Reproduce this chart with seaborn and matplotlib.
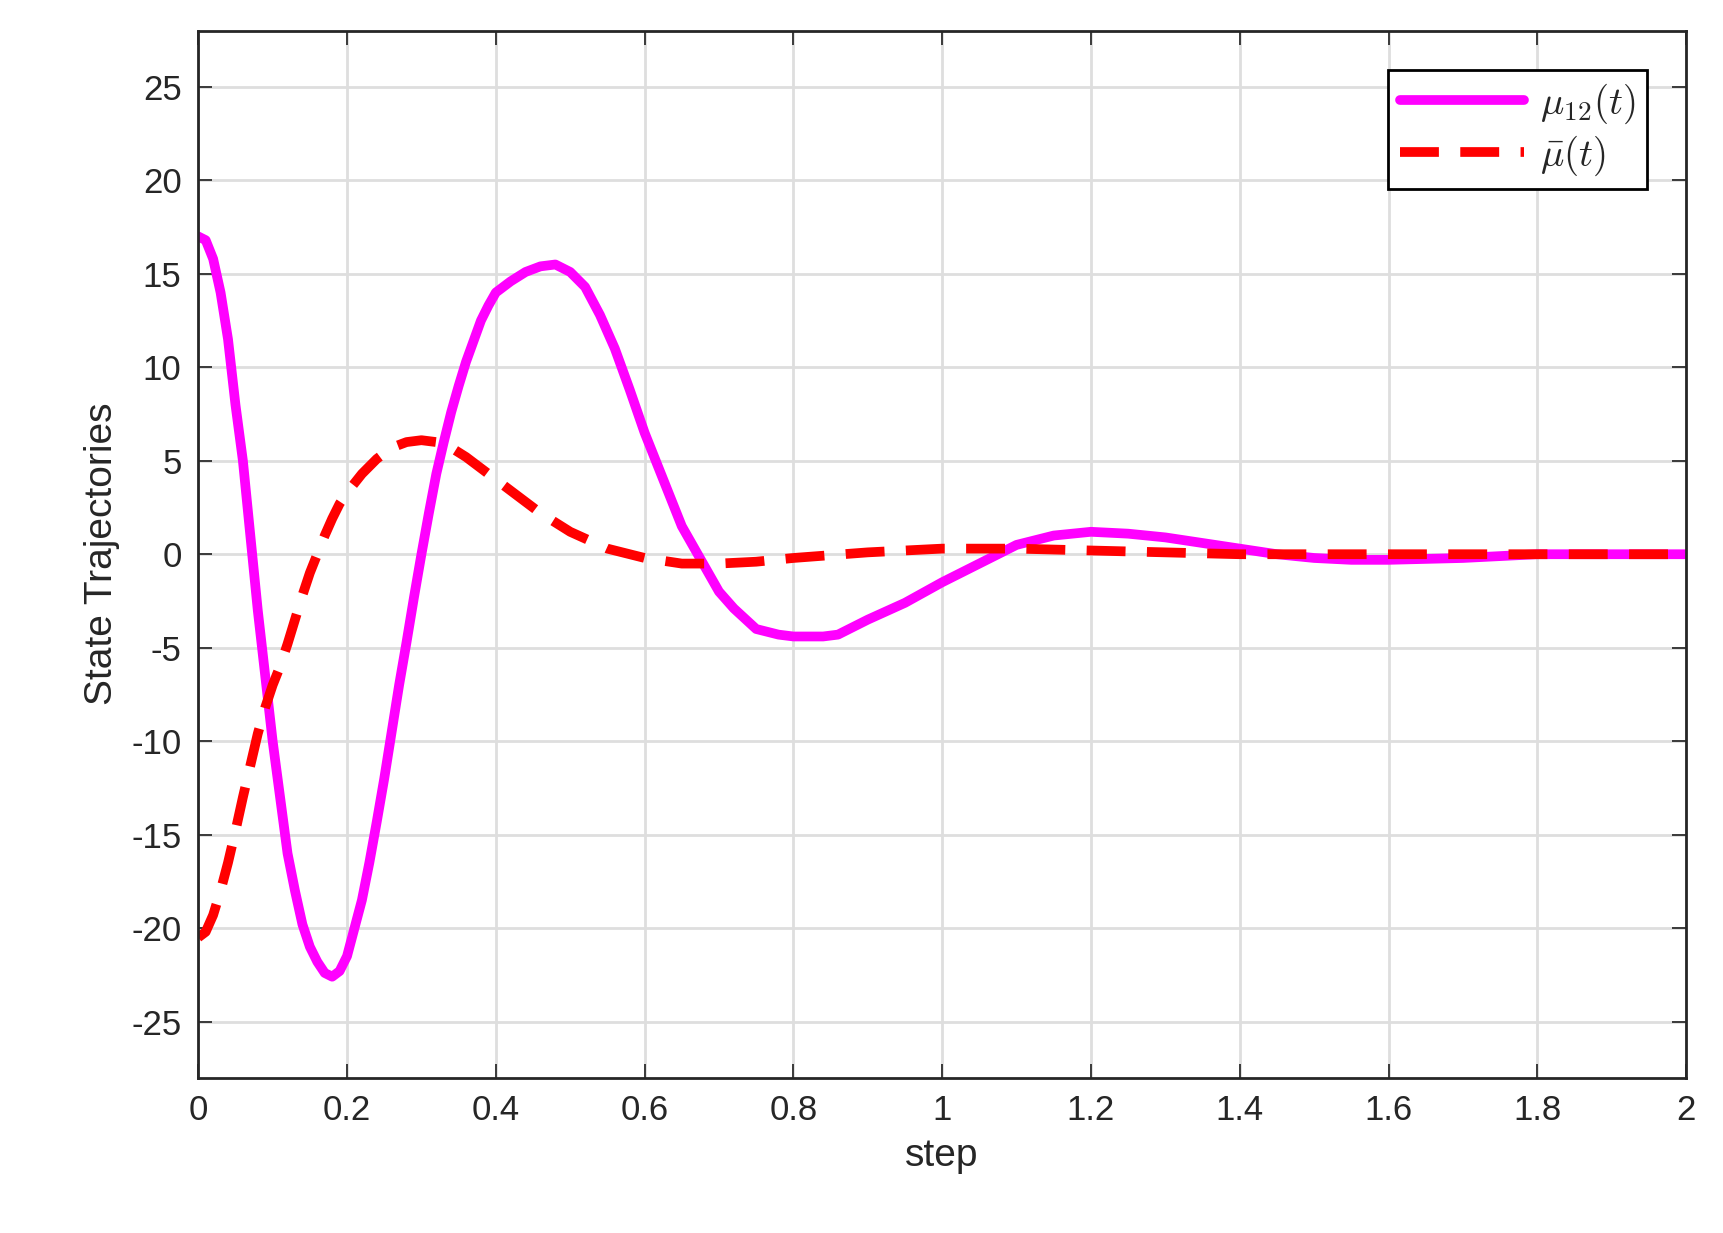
import matplotlib
matplotlib.use("Agg")
import matplotlib.pyplot as plt
import seaborn as sns
import pandas as pd

t_mu12 = [0, 0.01, 0.02, 0.03, 0.04, 0.05, 0.06, 0.07, 0.08, 0.09, 0.1, 0.11, 0.12, 0.13, 0.14, 0.15,
          0.16, 0.17, 0.18, 0.19, 0.2, 0.21, 0.22, 0.23, 0.24, 0.25, 0.26, 0.27, 0.28, 0.29, 0.3,
          0.31, 0.32, 0.33, 0.34, 0.35, 0.36, 0.37, 0.38, 0.39, 0.4, 0.42, 0.44, 0.46, 0.48, 0.5,
          0.52, 0.54, 0.56, 0.58, 0.6, 0.62, 0.65, 0.68, 0.7, 0.72, 0.75, 0.78, 0.8, 0.84, 0.86,
          0.9, 0.95, 1.0, 1.05, 1.1, 1.15, 1.2, 1.25, 1.3, 1.35, 1.4, 1.45, 1.5, 1.55, 1.6, 1.65,
          1.7, 1.75, 1.8, 1.9, 2.0]
mu12 = [17, 16.8, 15.8, 14, 11.5, 8, 5, 1, -3, -6.5, -10, -13, -16, -18, -19.8, -21,
        -21.8, -22.4, -22.6, -22.3, -21.5, -20, -18.5, -16.5, -14.3, -12, -9.5, -7, -4.7, -2.3, 0,
        2.2, 4.3, 6, 7.6, 9, 10.3, 11.4, 12.5, 13.3, 14, 14.6, 15.1, 15.4, 15.5, 15.1,
        14.3, 12.8, 11, 8.8, 6.5, 4.5, 1.5, -0.6, -2, -2.9, -4, -4.3, -4.4, -4.4, -4.3,
        -3.5, -2.6, -1.5, -0.5, 0.5, 1.0, 1.2, 1.1, 0.9, 0.6, 0.3, 0.0, -0.2, -0.3, -0.3, -0.25,
        -0.2, -0.1, 0, 0, 0]
t_mubar = [0, 0.01, 0.02, 0.03, 0.04, 0.05, 0.06, 0.07, 0.08, 0.09, 0.1, 0.11, 0.12, 0.13, 0.14,
           0.15, 0.16, 0.17, 0.18, 0.19, 0.2, 0.22, 0.24, 0.26, 0.28, 0.3, 0.32, 0.34, 0.36, 0.38,
           0.4, 0.43, 0.46, 0.5, 0.55, 0.6, 0.65, 0.7, 0.75, 0.8, 0.9, 1.0, 1.1, 1.2, 1.3, 1.4, 2.0]
mubar = [-20.5, -20.2, -19.3, -18, -16.5, -14.8, -13, -11.3, -9.6, -8.2, -7, -6, -4.8, -3.5, -2.2,
         -1, 0, 1, 1.9, 2.7, 3.3, 4.3, 5.1, 5.7, 6.0, 6.1, 6.0, 5.7, 5.2, 4.6,
         4.0, 3.1, 2.2, 1.2, 0.3, -0.2, -0.5, -0.5, -0.4, -0.2, 0.1, 0.3, 0.3, 0.2, 0.1, 0, 0]

sns.set_theme(style="whitegrid")
plt.rcParams['font.family'] = ['Liberation Sans', 'DejaVu Sans']
plt.rcParams['mathtext.fontset'] = 'cm'
plt.rcParams['axes.unicode_minus'] = False

fig = plt.figure(figsize=(17.24, 12.33), dpi=100)
ax = fig.add_axes([0.115, 0.126, 0.863, 0.849])
d1 = pd.DataFrame({"t": t_mu12, "v": mu12})
d2 = pd.DataFrame({"t": t_mubar, "v": mubar})
sns.lineplot(data=d1, x="t", y="v", ax=ax, color="#ff00ff", lw=7, label=r"$\mu_{12}(t)$")
sns.lineplot(data=d2, x="t", y="v", ax=ax, color="#ff0000", lw=7, ls=(0, (4, 2.2)), label=r"$\bar{\mu}(t)$")
ax.set_xlim(0, 2)
ax.set_ylim(-28, 28)
ax.set_xticks([0, 0.2, 0.4, 0.6, 0.8, 1, 1.2, 1.4, 1.6, 1.8, 2])
ax.set_xticklabels(["0", "0.2", "0.4", "0.6", "0.8", "1", "1.2", "1.4", "1.6", "1.8", "2"])
ax.set_yticks(range(-25, 30, 5))
ax.tick_params(labelsize=25, direction="in", length=10, top=True, right=True, color="#262626",
               bottom=True, left=True, pad=12)
ax.grid(color="#dedede", lw=2)
for s in ax.spines.values():
    s.set_color("#262626"); s.set_linewidth(2)
ax.set_xlabel("step", fontsize=28, labelpad=8)
ax.set_ylabel("State Trajectories", fontsize=28, labelpad=8)
leg = ax.legend(loc="upper right", fontsize=28, fancybox=False, edgecolor="black",
                handlelength=3.2, framealpha=1, borderaxespad=1.0, borderpad=0.3,
                labelspacing=0.2, handletextpad=0.4)
leg.get_frame().set_linewidth(2)
fig.savefig("out.png", dpi=100, facecolor="white")
